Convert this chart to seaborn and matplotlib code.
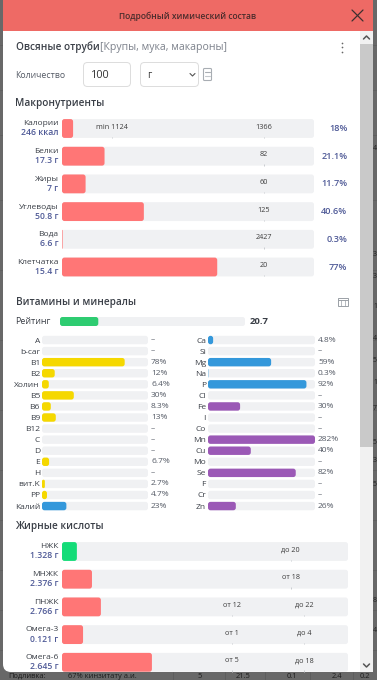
import matplotlib
matplotlib.use('Agg')
import matplotlib.pyplot as plt
import seaborn as sns
from matplotlib.patches import FancyBboxPatch, Rectangle
from matplotlib.transforms import IdentityTransform

# Macronutrients
macro_names = ['Калории', 'Белки', 'Жиры', 'Углеводы', 'Вода', 'Клетчатка']
macro_amounts = ['246 ккал', '17.3 г', '7 г', '50.8 г', '6.6 г', '15.4 г']
macro_fill = [5.5, 21.1, 11.7, 40.6, 0.3, 77]
macro_pct = ['18%', '21.1%', '11.7%', '40.6%', '0.3%', '77%']
macro_norm = ['1366', '82', '60', '125', '2427', '20']
calorie_min = 25

# Vitamins and minerals, None means no data
vit_names = ['A', 'b-car', 'B1', 'B2', 'Холин', 'B5', 'B6', 'B9', 'B12', 'C', 'D', 'E', 'H', 'вит.K', 'PP', 'Калий']
vit_values = [None, None, 78, 12, 6.4, 30, 8.3, 13, None, None, None, 6.7, None, 2.7, 4.7, 23]
min_names = ['Ca', 'Si', 'Mg', 'Na', 'P', 'Cl', 'Fe', 'I', 'Co', 'Mn', 'Cu', 'Mo', 'Se', 'F', 'Cr', 'Zn']
min_values = [4.8, None, 59, 0.3, 92, None, 30, None, None, 282, 40, None, 82, None, None, 26]
rating = 20.7

# Fatty acids
fat_names = ['НЖК', 'МНЖК', 'ПНЖК', 'Омега-3', 'Омега-6']
fat_amounts = ['1.328 г', '2.376 г', '2.766 г', '0.121 г', '2.645 г']
fat_fill = [6.5, 13.1, 17, 9.2, 39.3]
fat_low = ['', 'от 18', 'от 12', 'от 1', 'от 5']
fat_high = ['до 20', '', 'до 22', 'до 4', 'до 18']

TRACK = '#f0f1f3'
RED = '#ff7676'
YELLOW = '#f5d800'
BLUE = '#3498db'
PURPLE = '#9b59b6'
GREEN = '#2ecc71'
DARK = '#3a3f47'
SLATE = '#4f5a97'

sns.set_theme(style='white')
plt.rcParams['font.family'] = ['Open Sans', 'DejaVu Sans']

W, H = 377, 680
fig = plt.figure(figsize=(W / 100, H / 100), dpi=100)
fig.patch.set_facecolor('#686868')


def px_axes(x0, y0, x1, y1, zorder=2):
    ax = fig.add_axes([x0 / W, 1 - y1 / H, (x1 - x0) / W, (y1 - y0) / H], zorder=zorder)
    ax.patch.set_alpha(0)
    return ax


def round_bars(ax, radius):
    # swap the square seaborn bars for rounded ones of the same size
    box = ax.get_window_extent()
    for bar in list(ax.patches):
        ext = bar.get_window_extent()
        bar.set_visible(False)
        w = min(ext.x1, box.x1) - ext.x0
        if w <= 0:
            continue
        r = min(radius, w / 2)
        ax.add_artist(FancyBboxPatch((ext.x0, ext.y0), w, ext.height,
                                     boxstyle=f'round,pad=0,rounding_size={r}',
                                     transform=IdentityTransform(), facecolor=bar.get_facecolor(),
                                     linewidth=0, zorder=1.5))


def draw_bars(ax, names, values, colors, xmax, width):
    sns.barplot(x=[xmax] * len(names), y=names, color=TRACK, saturation=1, width=width, ax=ax)
    vals = [0 if v is None else v for v in values]
    sns.barplot(x=vals, y=names, hue=names, palette=dict(zip(names, colors)), saturation=1,
                width=width, legend=False, dodge=False, ax=ax)
    ax.set_xlim(0, xmax)
    # fixed limits, the marks added later must not rescale the rows
    ax.set_ylim(len(names) - 0.5, -0.5)
    ax.set_xticks([])
    ax.set_xlabel('')
    ax.set_ylabel('')
    sns.despine(ax=ax, left=True, bottom=True)
    ax.tick_params(axis='y', length=0, pad=1.5, labelsize=6, labelcolor=DARK)
    round_bars(ax, 2.5)


def side_labels(ax, names, amounts):
    ax.set_yticks(range(len(names)), [''] * len(names))
    for i, (name, amount) in enumerate(zip(names, amounts)):
        ax.annotate(name, (0, i), xytext=(-2.5, 3.4), textcoords='offset points', ha='right', va='center',
                    fontsize=6, color=DARK)
        ax.annotate(amount, (0, i), xytext=(-2.5, -3.2), textcoords='offset points', ha='right', va='center',
                    fontsize=6.2, color=SLATE, fontweight='semibold')


def mark(ax, pos, i, label, bar_half):
    ax.annotate(label, (pos, i), xytext=(0, 1), textcoords='offset points', ha='center', va='center',
                fontsize=5.2, color='#3c3c3c')
    ax.vlines(pos, i + bar_half - 0.05, i + bar_half, color='#c9ccd0', linewidth=0.7, zorder=2)


# window chrome, in pixels
ui = fig.add_axes([0, 0, 1, 1], zorder=1)
ui.set_xlim(0, W)
ui.set_ylim(H, 0)
ui.axis('off')
for y in [45, 90, 135, 200, 270, 340, 410, 470, 520, 570, 610, 650]:
    ui.plot([0, W], [y, y], color='#5c5c5c', linewidth=0.5, zorder=0.5)
for x, y, s in [(373, 148, '4'), (373, 255, '3'), (373, 277, '3'), (373, 307, '1'),
                (373, 338, '4'), (373, 361, '5'), (373, 383, '1'), (373, 408, '7'), (373, 442, '5'),
                (373, 460, '3'), (373, 484, '5'), (373, 600, '8'), (373, 630, '4')]:
    ui.text(x, y, s, fontsize=5, color='#222222', va='center', zorder=0.6)
for x, s in [(8, 'Подливка:'), (68, '67% кинзитату а.и.'), (197, '5'), (236, '21.5'), (287, '0.1'), (332, '2.4'), (360, '0.2')]:
    ui.text(x, 676, s, fontsize=5.4, color='#1c1c1c', va='center', zorder=0.6)
for x in [173, 225, 265, 310, 353]:
    ui.plot([x, x], [672, 680], color='#5c5c5c', linewidth=0.6, zorder=0.5)

ui.add_patch(FancyBboxPatch((3, -20), 370, 692, boxstyle='round,pad=0,rounding_size=8',
                            facecolor='white', linewidth=0, zorder=0.8))
ui.add_patch(FancyBboxPatch((3, -20), 370, 51, boxstyle='round,pad=0,rounding_size=8',
                            facecolor='#ee6a65', linewidth=0, zorder=0.9))
ui.add_patch(Rectangle((3, 21), 370, 10, facecolor='#ee6a65', linewidth=0, zorder=0.9))
ui.text(188, 16.5, 'Подробный химический состав', fontsize=6.1, fontweight='semibold', color='#4a2c2c',
        ha='center', va='center')
ui.plot([352, 363], [10, 21], color='#3d3030', linewidth=0.9)
ui.plot([352, 363], [21, 10], color='#3d3030', linewidth=0.9)

# scrollbar
ui.add_patch(Rectangle((360, 31), 13, 641, facecolor='#f1f1f1', linewidth=0))
ui.add_patch(Rectangle((360, 44), 13, 403, facecolor='#c9c9c9', linewidth=0))
ui.plot([363.5, 366.5, 369.5], [39, 36, 39], color='#555555', linewidth=1.1)
ui.plot([363.5, 366.5, 369.5], [664, 667, 664], color='#555555', linewidth=1.1)

# header block
ui.text(15.5, 47.5, 'Овсяные отруби', fontsize=7.2, fontweight='semibold', color=DARK, va='center')
ui.text(100, 47.5, '[Крупы, мука, макароны]', fontsize=7.6, color='#7d828c', va='center')
ui.scatter([342, 342, 342], [42.5, 47, 51.5], s=1.5, color='#666666', linewidths=0)
ui.text(15.5, 75.5, 'Количество', fontsize=6.3, color='#555b66', va='center')
ui.add_patch(FancyBboxPatch((83.5, 62.5), 47, 24, boxstyle='round,pad=0,rounding_size=4',
                            facecolor='white', edgecolor='#dcdcdc', linewidth=0.7))
ui.text(91, 75.5, '100', fontsize=7.8, color='#333333', fontweight='medium', va='center')
ui.add_patch(FancyBboxPatch((140.5, 62.5), 58, 24, boxstyle='round,pad=0,rounding_size=4',
                            facecolor='white', edgecolor='#dcdcdc', linewidth=0.7))
ui.text(147, 75.5, 'г', fontsize=7, color='#333333', va='center')
ui.plot([190, 192.5, 195], [73.5, 76, 73.5], color='#555555', linewidth=0.8)
ui.add_patch(FancyBboxPatch((203.5, 68.5), 8, 12, boxstyle='round,pad=0,rounding_size=1',
                            facecolor='white', edgecolor='#a8adb3', linewidth=0.8))
ui.plot([205, 210], [72, 72], color='#a8adb3', linewidth=0.8)
ui.plot([205, 210], [76, 76], color='#c4c8cc', linewidth=0.8)
ui.text(15.5, 103.5, 'Макронутриенты', fontsize=7.2, fontweight='semibold', color=DARK, va='center')
ui.text(15.5, 302.5, 'Витамины и минералы', fontsize=7.2, fontweight='semibold', color=DARK, va='center')
ui.text(15.5, 526.5, 'Жирные кислоты', fontsize=7.2, fontweight='semibold', color=DARK, va='center')
ui.text(15.5, 322, 'Рейтинг', fontsize=6.4, fontweight='medium', color=DARK, va='center')
ui.text(250, 322, f'{rating}', fontsize=6.8, fontweight='bold', color=DARK, va='center')
# table icon
ui.add_patch(Rectangle((338, 297.5), 9.5, 8.5, facecolor='white', edgecolor='#9aa0a6', linewidth=0.7))
ui.plot([338, 347.5], [300, 300], color='#9aa0a6', linewidth=0.7)
ui.plot([341, 341], [300, 306], color='#9aa0a6', linewidth=0.5)
ui.plot([344.5, 344.5], [300, 306], color='#9aa0a6', linewidth=0.5)

# macronutrients
ax = px_axes(62, 114.65, 314, 280.85)
draw_bars(ax, macro_names, macro_fill, [RED] * len(macro_names), 125, 0.68)
side_labels(ax, macro_names, macro_amounts)
for i, (norm, pct) in enumerate(zip(macro_norm, macro_pct)):
    mark(ax, 100, i, norm, 0.34)
    ax.annotate(pct, (1, i), xycoords=ax.get_yaxis_transform(), xytext=(24, 0), textcoords='offset points',
                ha='right', va='center', fontsize=6.6, color=SLATE, fontweight='semibold')
mark(ax, calorie_min, 0, 'min 1124', 0.34)

# rating
ax = px_axes(60, 316.5, 245, 326.5)
draw_bars(ax, ['Рейтинг'], [rating], [GREEN], 100, 0.9)
ax.set_yticks([])


def vit_panel(x0, x1, names, values, colors):
    ax = px_axes(x0, 334.5, x1, 511.6)
    draw_bars(ax, names, values, colors, 100, 0.76)
    for i, v in enumerate(values):
        label = '–' if v is None else f'{v:g}%'
        ax.annotate(label, (1, i), xycoords=ax.get_yaxis_transform(), xytext=(2.2, 0), textcoords='offset points',
                    ha='left', va='center', fontsize=6, color='#555b66')


vit_panel(42, 148, vit_names, vit_values, [YELLOW] * 15 + [BLUE])
vit_panel(208, 315, min_names, min_values, [BLUE] * 6 + [PURPLE] * 10)

# fatty acids
ax = px_axes(62, 537.65, 348, 676.15)
draw_bars(ax, fat_names, fat_fill, ['#14dc78'] + [RED] * 4, 125, 0.68)
side_labels(ax, fat_names, fat_amounts)
for i, (low, high) in enumerate(zip(fat_low, fat_high)):
    if low and high:
        mark(ax, 74.3, i, low, 0.34)
        mark(ax, 105.8, i, high, 0.34)
    else:
        mark(ax, 100, i, low or high, 0.34)

fig.savefig('out.png', dpi=100, facecolor=fig.get_facecolor())
